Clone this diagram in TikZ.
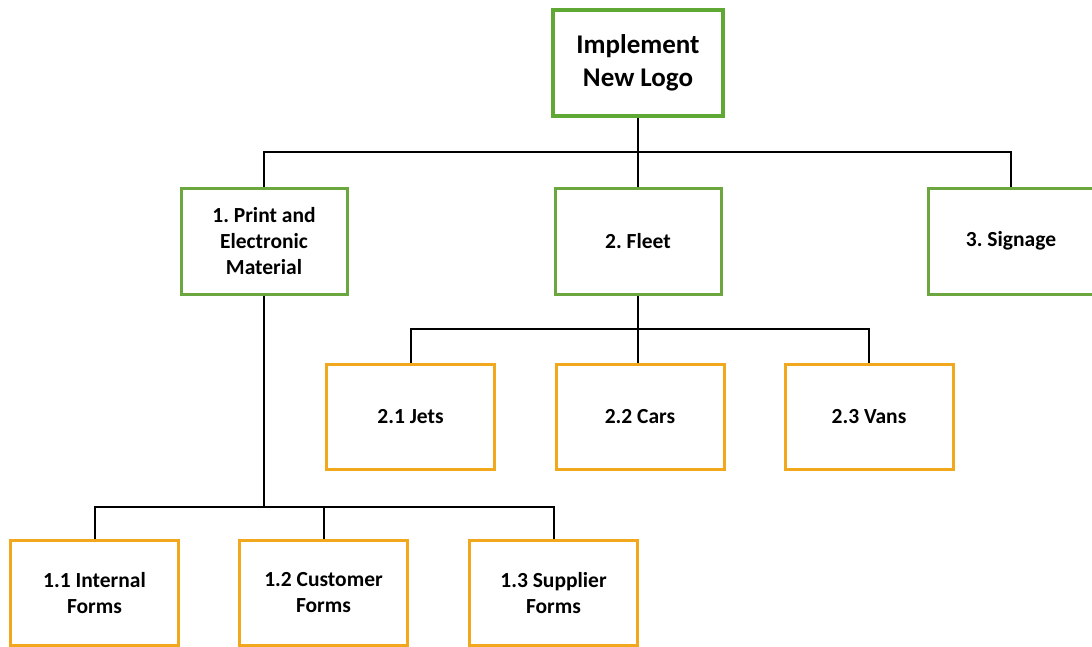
\documentclass[tikz,border=0pt]{standalone}
\usepackage{fontspec}
\setmainfont{Carlito}
\frenchspacing
\begin{document}
\begin{tikzpicture}[x=1pt,y=-1pt,
  box/.style={draw, fill=white, minimum width=#1, align=center,
    font=\bfseries\fontsize{21.5}{26}\selectfont, inner sep=0pt},
  topbox/.style={box=170pt, draw=topgreen, line width=4.5pt, minimum height=106pt,
    font=\bfseries\fontsize{27}{33}\selectfont},
  lvlone/.style={box=166pt, draw=lvlgreen, line width=3pt, minimum height=106pt},
  lvltwo/.style={box=168pt, draw=lvlorange, line width=3pt, minimum height=105pt},
  link/.style={line width=2pt, black}]
\definecolor{topgreen}{HTML}{5FA833}
\definecolor{lvlgreen}{HTML}{6BA63E}
\definecolor{lvlorange}{HTML}{F2A81C}
\useasboundingbox (0,0) rectangle (1092,646);
\fill[white] (0,0) rectangle (1092,646);

% top level
\node[topbox] (root) at (638,63) {Implement\\New Logo};

% level 1
\node[lvlone] (p1) at (264,241) {1. Print and\\Electronic\\Material};
\node[lvlone] (p2) at (638,241) {2. Fleet};
\node[lvlone] (p3) at (1011,241) {3. Signage};

% level 2 under fleet
\node[lvltwo] (f1) at (410.5,417) {2.1 Jets};
\node[lvltwo] (f2) at (640,417) {2.2 Cars};
\node[lvltwo] (f3) at (869,417) {2.3 Vans};

% level 2 under print material
\node[lvltwo] (m1) at (94.5,593) {1.1 Internal\\Forms};
\node[lvltwo] (m2) at (323.5,593) {1.2 Customer\\Forms};
\node[lvltwo] (m3) at (553.5,593) {1.3 Supplier\\Forms};

% connectors
\coordinate (rb) at (638,152);
\draw[link] (root.south) -- (rb);
\draw[link] (p1.north) |- (rb) -| (p3.north);
\draw[link] (rb) -- (p2.north);

\coordinate (fb) at (638,329);
\draw[link] (p2.south) -- (fb);
\draw[link] (f1.north) |- (fb) -| (f3.north);
\draw[link] (fb) -- (fb |- f2.north);

\coordinate (mb) at (264,507);
\draw[link] (p1.south) -- (mb);
\draw[link] (m1.north) |- (mb) -| (m3.north);
\draw[link] (mb -| m2.north) -- (m2.north);
\end{tikzpicture}
\end{document}
